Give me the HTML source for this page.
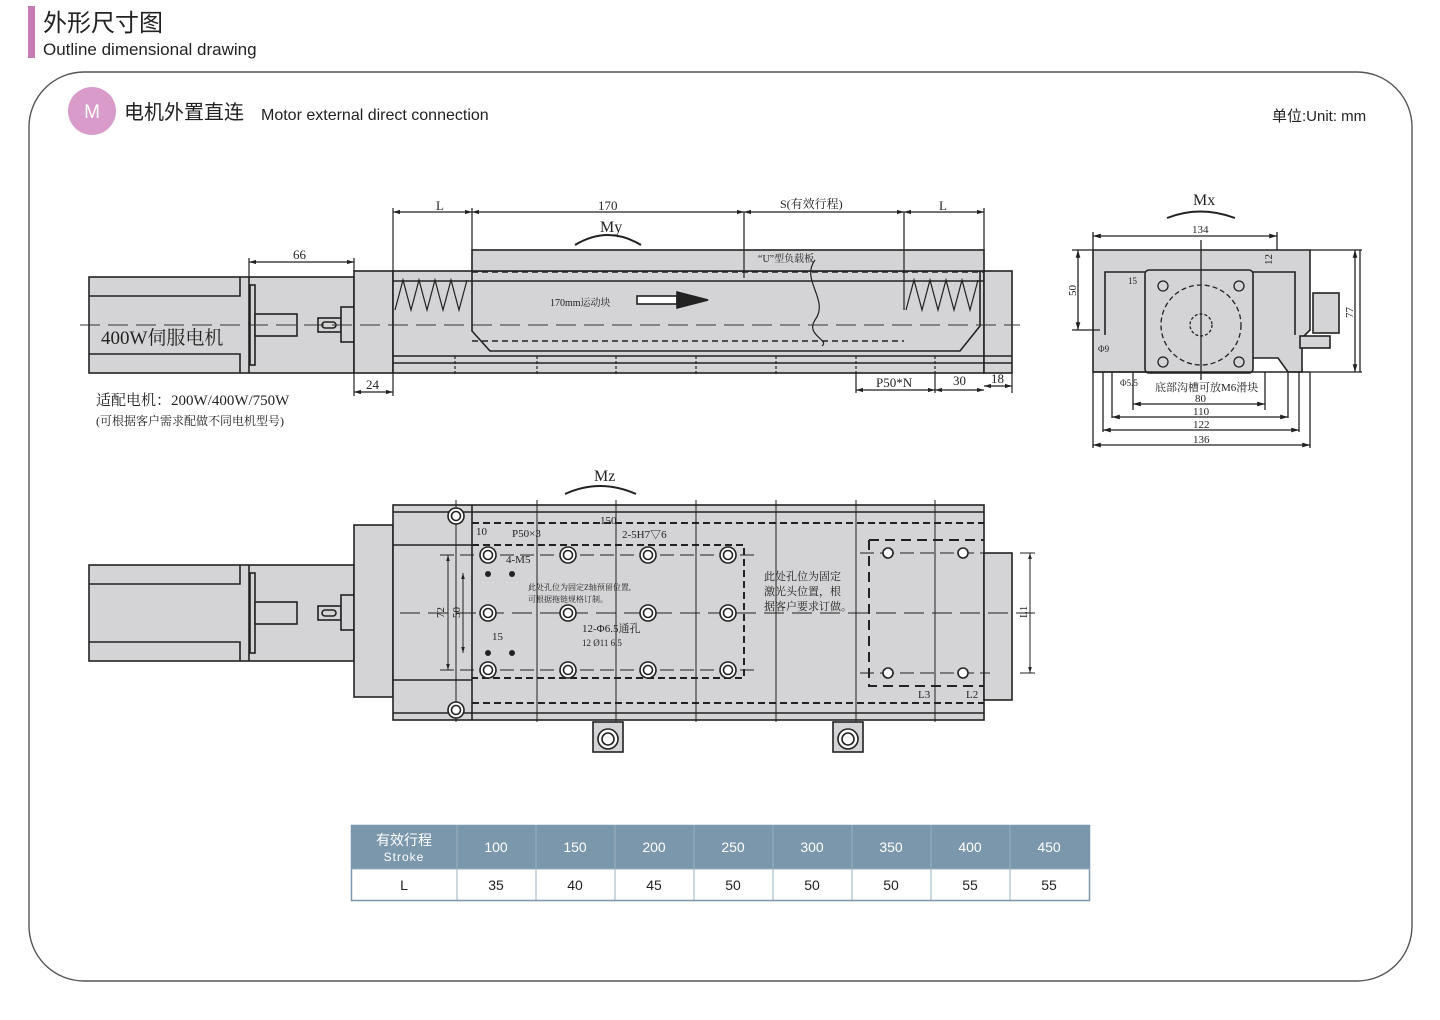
<!DOCTYPE html>
<html><head><meta charset="utf-8"><style>
body{margin:0;background:#fff;width:1440px;height:1020px;overflow:hidden;font-family:"Liberation Sans","Noto Sans CJK SC",sans-serif}
svg{position:absolute;left:0;top:0}
.t{font-family:"Liberation Serif","Noto Serif CJK SC",serif;fill:#222}
</style></head><body>
<svg width="1440" height="1020" viewBox="0 0 1440 1020" xmlns="http://www.w3.org/2000/svg">
<defs>
<marker id="a" viewBox="0 0 10 10" refX="10" refY="5" markerWidth="6" markerHeight="6" orient="auto-start-reverse"><path d="M0,2L10,5L0,8z" fill="#222"/></marker>
<g id="motor" stroke="#222" stroke-width="1.6" fill="#d4d4d6">
<rect x="89" y="-48" width="265" height="96"/>
<path d="M89,-29H240V-48M89,29H240V48" fill="none"/>
<line x1="249" y1="-48" x2="249" y2="48"/>
<rect x="250" y="-40" width="5" height="80"/>
<rect x="255" y="-11" width="42" height="22"/>
<rect x="318" y="-7" width="23" height="14"/>
<rect x="322" y="-3" width="14" height="6" rx="3"/>
<rect x="341" y="-18" width="13" height="35"/>
</g>
<g id="h" stroke="#222" stroke-width="1.6" fill="#fff"><circle r="8"/><circle r="4.5"/></g>
</defs>
<!-- header -->
<rect x="28" y="6" width="7" height="52" fill="#c77bb4"/>
<text x="43" y="31" font-size="24" fill="#222" font-family="'Liberation Sans','Noto Sans CJK SC',sans-serif">外形尺寸图</text>
<text x="43" y="55" font-size="17" fill="#222">Outline dimensional drawing</text>
<rect x="29" y="72" width="1383" height="909" rx="55" fill="none" stroke="#555" stroke-width="1.4"/>
<circle cx="92" cy="111" r="24" fill="#d99bc9"/>
<text x="92" y="118" font-size="19" fill="#fff" text-anchor="middle">M</text>
<text x="124" y="119" font-size="20" fill="#222">电机外置直连</text>
<text x="261" y="120" font-size="16" fill="#222">Motor external direct connection</text>
<text x="1272" y="121" font-size="15" fill="#222">单位:Unit: mm</text>

<!-- ===== Top elevation ===== -->
<use href="#motor" transform="translate(0,325)"/>
<text class="t" x="101" y="344" font-size="19">400W伺服电机</text>
<g stroke="#222" stroke-width="1.6" fill="#d4d4d6">
<rect x="354" y="271" width="39" height="102"/>
<rect x="393" y="271" width="591" height="102"/>
<rect x="984" y="271" width="28" height="102"/>
<rect x="472" y="250" width="512" height="21"/>
<path d="M393,281H984M472,271V331l18,20H960l20,-25V271" fill="none"/>
<path d="M393,356H1012M393,363H1012" fill="none"/>
<rect x="637" y="296" width="40" height="8" fill="#fff"/>
<path d="M677,292L708,300L677,308z" fill="#222"/>
</g>
<g stroke="#222" stroke-width="1.6" fill="none" stroke-dasharray="6,4">
<path d="M472,272H984M472,341H904"/>
</g>
<g stroke="#222" stroke-width="1.2" fill="none">
<path d="M395,310L403,280L411,310L419,280L427,310L435,280L443,310L451,280L459,310L467,280"/>
<path d="M906,310L914,280L922,310L930,280L938,310L946,280L954,310L962,280L970,310L978,280"/>
<path d="M815,260C800,280 830,300 815,320C805,335 830,340 822,346"/>
<line x1="744" y1="212" x2="744" y2="278"/><line x1="904" y1="212" x2="904" y2="310"/>
<line x1="393" y1="208" x2="393" y2="271"/><line x1="472" y1="208" x2="472" y2="250"/><line x1="984" y1="208" x2="984" y2="250"/>
<line x1="393" y1="212" x2="472" y2="212" marker-start="url(#a)" marker-end="url(#a)"/>
<line x1="472" y1="212" x2="744" y2="212" marker-start="url(#a)" marker-end="url(#a)"/>
<line x1="744" y1="212" x2="904" y2="212" marker-start="url(#a)" marker-end="url(#a)"/>
<line x1="904" y1="212" x2="984" y2="212" marker-start="url(#a)" marker-end="url(#a)"/>
<line x1="249" y1="258" x2="249" y2="277"/><line x1="354" y1="258" x2="354" y2="271"/>
<line x1="249" y1="262" x2="354" y2="262" marker-start="url(#a)" marker-end="url(#a)"/>
<line x1="354" y1="373" x2="354" y2="396"/><line x1="393" y1="373" x2="393" y2="396"/>
<line x1="354" y1="392" x2="393" y2="392" marker-start="url(#a)" marker-end="url(#a)"/>
<line x1="856" y1="373" x2="856" y2="393"/><line x1="935" y1="373" x2="935" y2="393"/><line x1="1012" y1="373" x2="1012" y2="393"/>
<line x1="856" y1="390" x2="935" y2="390" marker-start="url(#a)" marker-end="url(#a)"/>
<line x1="935" y1="390" x2="984" y2="390" marker-start="url(#a)" marker-end="url(#a)"/>
<line x1="984" y1="386" x2="1012" y2="386" marker-start="url(#a)" marker-end="url(#a)"/>
<path d="M575,245Q608,225 641,245" stroke-width="2"/>
<path d="M455,356V375M537,356V375M616,356V375M696,356V375M776,356V375M856,356V375M935,356V375" stroke-dasharray="3,2"/>
</g>
<line x1="80" y1="325" x2="1020" y2="325" stroke="#333" stroke-width="1" stroke-dasharray="20,8"/>
<g class="t" font-size="13">
<text x="436" y="210">L</text><text x="598" y="210">170</text><text x="780" y="208" font-size="12">S(有效行程)</text><text x="939" y="210">L</text>
<text x="293" y="259">66</text><text x="366" y="389">24</text><text x="876" y="387">P50*N</text><text x="953" y="385">30</text><text x="991" y="383">18</text>
<text x="600" y="232" font-size="16">My</text>
<text x="758" y="262" font-size="10">“U”型负载板</text>
<text x="550" y="306" font-size="10">170mm运动块</text>
<text x="96" y="405" font-size="15">适配电机：200W/400W/750W</text>
<text x="96" y="425" font-size="12">(可根据客户需求配做不同电机型号)</text>
</g>

<!-- ===== Plan view ===== -->
<use href="#motor" transform="translate(0,613)"/>
<g stroke="#222" stroke-width="1.6" fill="#d4d4d6">
<rect x="354" y="525" width="39" height="172"/>
<rect x="393" y="505" width="591" height="215"/>
<rect x="984" y="553" width="28" height="147"/>
<path d="M393,512H984M393,713H984M472,505V720M393,545H472M393,680H472" fill="none"/>
<rect x="593" y="722" width="30" height="30"/><rect x="833" y="722" width="30" height="30"/>
</g>
<g stroke="#222" stroke-width="2" fill="none" stroke-dasharray="7,4">
<path d="M472,523H984M472,703H984M472,545H744V678H472"/>
<path d="M869,540H984M869,540V686H984" stroke-dasharray="10,6"/>
</g>
<g stroke="#222" stroke-width="1" fill="none">
<path d="M456,500V722M537,500V722M616,500V722M696,500V722M776,500V722M856,500V722M935,500V722"/>
<line x1="400" y1="613" x2="1035" y2="613" stroke-dasharray="20,8"/>
<path d="M440,555H760M440,670H760M860,553H990M860,673H990" stroke-dasharray="14,6"/>
<path d="M1020,553H1035M1020,673H1035"/>
<line x1="1030" y1="553" x2="1030" y2="673" marker-start="url(#a)" marker-end="url(#a)"/>
<line x1="448" y1="555" x2="448" y2="670" marker-start="url(#a)" marker-end="url(#a)"/>
<line x1="463" y1="573" x2="463" y2="653" marker-start="url(#a)" marker-end="url(#a)"/>
<path d="M565,494Q600,478 636,494" stroke-width="2"/>
</g>
<use href="#h" x="488" y="555"/><use href="#h" x="568" y="555"/><use href="#h" x="648" y="555"/><use href="#h" x="728" y="555"/>
<use href="#h" x="488" y="613"/><use href="#h" x="568" y="613"/><use href="#h" x="648" y="613"/><use href="#h" x="728" y="613"/>
<use href="#h" x="488" y="670"/><use href="#h" x="568" y="670"/><use href="#h" x="648" y="670"/><use href="#h" x="728" y="670"/>
<use href="#h" x="456" y="516"/><use href="#h" x="456" y="710"/>
<g stroke="#222" stroke-width="1.6" fill="#fff">
<circle cx="888" cy="553" r="5"/><circle cx="963" cy="553" r="5"/><circle cx="888" cy="673" r="5"/><circle cx="963" cy="673" r="5"/>
<circle cx="608" cy="739" r="10"/><circle cx="608" cy="739" r="6"/><circle cx="848" cy="739" r="10"/><circle cx="848" cy="739" r="6"/>
</g>
<g fill="#222"><circle cx="488" cy="574" r="3"/><circle cx="512" cy="574" r="3"/><circle cx="488" cy="653" r="3"/><circle cx="512" cy="653" r="3"/></g>
<g class="t" font-size="11">
<text x="594" y="481" font-size="16">Mz</text>
<text x="476" y="535">10</text><text x="512" y="537">P50×3</text><text x="600" y="524">150</text><text x="622" y="538">2-5H7▽6</text>
<text x="506" y="563">4-M5</text><text x="492" y="640">15</text><text x="582" y="632">12-Φ6.5通孔</text><text x="582" y="646" font-size="9">12 Ø11  6.5</text>
<text x="528" y="590" font-size="8">此处孔位为固定Z轴预留位置,</text><text x="528" y="602" font-size="8">可根据拖链规格订制。</text>
<text x="764" y="580" font-size="11">此处孔位为固定</text><text x="764" y="595" font-size="11">激光头位置，根</text><text x="764" y="610" font-size="11">据客户要求订做。</text>
<text x="918" y="698">L3</text><text x="966" y="698">L2</text>
<text transform="translate(444,618) rotate(-90)">72</text><text transform="translate(460,618) rotate(-90)">50</text>
<text transform="translate(1027,618) rotate(-90)">L1</text>
</g>

<!-- ===== End view ===== -->
<g stroke="#222" stroke-width="1.6" fill="#d4d4d6">
<path d="M1093,372V250H1310V330L1302,338V372H1288L1278,358H1165L1158,372Z"/>
<path d="M1105,335V272H1295V335" fill="none"/>
<rect x="1145" y="270" width="108" height="103" rx="4"/>
<rect x="1313" y="293" width="26" height="40"/>
<rect x="1300" y="336" width="30" height="12"/>
<path d="M1093,372H1310" />
</g>
<g stroke="#222" stroke-width="1.3" fill="none">
<circle cx="1201" cy="325" r="40" stroke-dasharray="5,3"/>
<circle cx="1201" cy="325" r="11" stroke-dasharray="3,2"/>
<circle cx="1163" cy="286" r="5"/><circle cx="1239" cy="286" r="5"/><circle cx="1163" cy="362" r="5"/><circle cx="1239" cy="362" r="5"/>
<line x1="1201" y1="240" x2="1201" y2="380"/>
<path d="M1093,232V250M1277,232V250M1360,250V372"/>
<line x1="1093" y1="236" x2="1277" y2="236" marker-start="url(#a)" marker-end="url(#a)"/>
<line x1="1078" y1="250" x2="1078" y2="330" marker-start="url(#a)" marker-end="url(#a)"/><path d="M1072,250H1093M1072,330H1100"/>
<line x1="1355" y1="250" x2="1355" y2="372" marker-start="url(#a)" marker-end="url(#a)"/><path d="M1310,250H1362M1310,372H1362"/>
<path d="M1133,372V410M1265,372V410M1112,372V418M1288,372V418M1103,372V432M1299,372V432M1093,372V448M1310,372V448"/>
<line x1="1133" y1="404" x2="1265" y2="404" marker-start="url(#a)" marker-end="url(#a)"/>
<line x1="1112" y1="417" x2="1288" y2="417" marker-start="url(#a)" marker-end="url(#a)"/>
<line x1="1103" y1="430" x2="1299" y2="430" marker-start="url(#a)" marker-end="url(#a)"/>
<line x1="1093" y1="445" x2="1310" y2="445" marker-start="url(#a)" marker-end="url(#a)"/>
<path d="M1167,218Q1200,205 1235,218" stroke-width="2"/>
</g>
<g class="t" font-size="11">
<text x="1193" y="205" font-size="16">Mx</text>
<text x="1192" y="233">134</text><text x="1195" y="402">80</text><text x="1193" y="415">110</text><text x="1193" y="428">122</text><text x="1193" y="443">136</text>
<text x="1155" y="391" font-size="11">底部沟槽可放M6滑块</text>
<text transform="translate(1076,296) rotate(-90)">50</text><text transform="translate(1353,318) rotate(-90)">77</text><text transform="translate(1272,265) rotate(-90)">12</text>
<text x="1128" y="284" font-size="9">15</text><text x="1098" y="352" font-size="9">Φ9</text><text x="1120" y="386" font-size="9">Φ5.5</text>
</g>

<!-- ===== Table ===== -->
<g font-family="'Liberation Sans','Noto Sans CJK SC',sans-serif" font-size="14" text-anchor="middle">
<rect x="351" y="825" width="739" height="44" fill="#7b97ab"/>
<rect x="351" y="869" width="739" height="31" fill="#fff"/>
<rect x="351.5" y="825.5" width="738" height="75" fill="none" stroke="#7b97ab" stroke-width="1.5"/>
<g stroke="#9ab0bf" stroke-width="1">
<path d="M457,825V900M536,825V900M615,825V900M694,825V900M773,825V900M852,825V900M931,825V900M1010,825V900M351,869H1090"/>
</g>
<g fill="#fff">
<text x="404" y="845">有效行程</text><text x="404" y="861" font-size="12" letter-spacing="1">Stroke</text>
<text x="496" y="852">100</text><text x="575" y="852">150</text><text x="654" y="852">200</text><text x="733" y="852">250</text>
<text x="812" y="852">300</text><text x="891" y="852">350</text><text x="970" y="852">400</text><text x="1049" y="852">450</text>
</g>
<g fill="#222">
<text x="404" y="890">L</text><text x="496" y="890">35</text><text x="575" y="890">40</text><text x="654" y="890">45</text><text x="733" y="890">50</text>
<text x="812" y="890">50</text><text x="891" y="890">50</text><text x="970" y="890">55</text><text x="1049" y="890">55</text>
</g>
</g>
</svg>
</body></html>
